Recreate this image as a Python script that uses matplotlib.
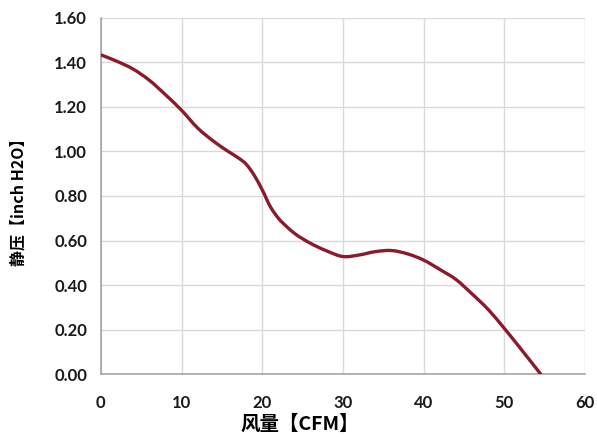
import matplotlib
matplotlib.use("Agg")
import matplotlib.pyplot as plt
import numpy as np
from matplotlib.path import Path
from matplotlib.patches import PathPatch

# 风量 (CFM) vs 静压 (inch H2O)
flow = [0, 2, 4, 6, 8, 10, 12, 14, 16, 17, 18, 19, 20, 21, 22, 23, 24, 26,
        28, 30, 32, 34, 36, 38, 40, 42, 44, 46, 48, 50, 52, 54.5]
pressure = [1.434, 1.405, 1.37, 1.32, 1.255, 1.185, 1.105, 1.045, 0.995,
            0.972, 0.943, 0.893, 0.827, 0.752, 0.70, 0.663, 0.632, 0.587,
            0.553, 0.528, 0.535, 0.55, 0.555, 0.54, 0.512, 0.47, 0.425,
            0.36, 0.29, 0.205, 0.115, 0.0]

x_ticks = [0, 10, 20, 30, 40, 50, 60]
y_ticks = [0.0, 0.2, 0.4, 0.6, 0.8, 1.0, 1.2, 1.4, 1.6]

plt.rcParams['font.family'] = ['Lato', 'Noto Sans CJK SC', 'DejaVu Sans']


def smooth_path(xs, ys):
    # smoothed line: cubic hermite segments written as beziers
    x = np.asarray(xs, float)
    y = np.asarray(ys, float)
    m = np.gradient(y, x)
    verts = [(x[0], y[0])]
    codes = [Path.MOVETO]
    for i in range(len(x) - 1):
        h = x[i + 1] - x[i]
        verts += [(x[i] + h / 3, y[i] + m[i] * h / 3),
                  (x[i + 1] - h / 3, y[i + 1] - m[i + 1] * h / 3),
                  (x[i + 1], y[i + 1])]
        codes += [Path.CURVE4] * 3
    return Path(verts, codes)


fig = plt.figure(figsize=(5.97, 4.37), dpi=100)
ax = fig.add_axes([0.169, 0.144, 0.811, 0.815])

ax.add_patch(PathPatch(smooth_path(flow, pressure), facecolor="none",
                       edgecolor="#8b1a2b", linewidth=2.4,
                       capstyle="round", joinstyle="round", zorder=3))

ax.set_xlim(0, 60)
ax.set_ylim(0, 1.6)
ax.set_xticks(x_ticks)
ax.set_yticks(y_ticks)
ax.set_yticklabels([f"{v:.2f}" for v in y_ticks])
ax.grid(True, color="#d9d9d9", linewidth=1)
ax.set_axisbelow(True)

for s in ["top", "right"]:
    ax.spines[s].set_visible(False)
for s in ["left", "bottom"]:
    ax.spines[s].set_color("#a6a6a6")
    ax.spines[s].set_linewidth(1.2)

ax.tick_params(axis="y", length=0, pad=10, labelsize=12)
ax.tick_params(axis="x", length=0, pad=15, labelsize=12)
for lab in ax.get_xticklabels() + ax.get_yticklabels():
    lab.set_fontweight("bold")
    lab.set_color("#1a1a1a")

ax.set_xlabel("风量【CFM】", fontsize=14, fontweight="bold",
              family=['Noto Sans CJK SC', 'DejaVu Sans'])
ax.set_ylabel("静压【inch H2O】", fontsize=11.5, fontweight="bold",
              family=['Noto Sans CJK SC', 'DejaVu Sans'])
ax.xaxis.set_label_coords(0.411, -0.112)
ax.yaxis.set_label_coords(-0.153, 0.494)

fig.savefig("out.png", dpi=100)
